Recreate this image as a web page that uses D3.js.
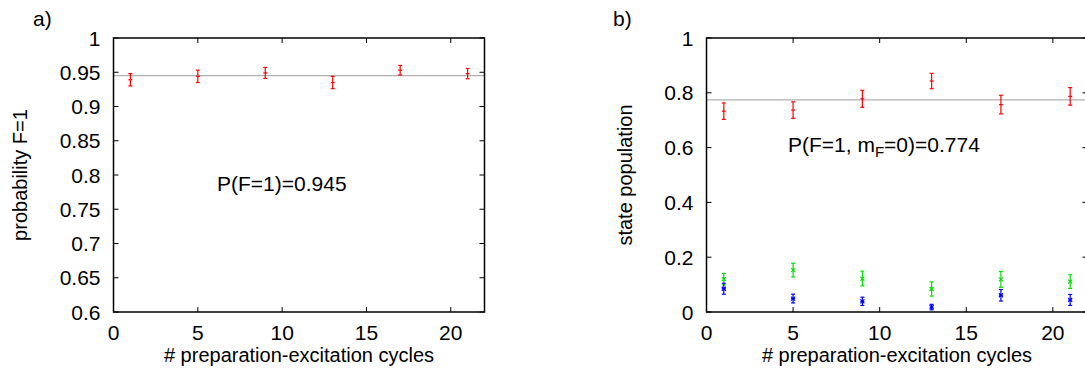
<!DOCTYPE html>
<html>
<head>
<meta charset="utf-8">
<script src="https://cdn.jsdelivr.net/npm/d3@7"></script>
<style>
  body { margin: 0; background: #fff; }
  svg text { font-family: "Liberation Sans", Arial, sans-serif; fill: #000; }
</style>
</head>
<body>
<svg id="svg" width="1085" height="380"></svg>
<script>
// data
var cycles     = [1, 5, 9, 13, 17, 21];
var probF1     = [0.939, 0.944, 0.949, 0.935, 0.953, 0.948];
var probF1Err  = [0.009, 0.009, 0.008, 0.009, 0.007, 0.0075];
var fitF1      = 0.945;

var popM0      = [0.733, 0.737, 0.778, 0.843, 0.757, 0.787];
var popM0Err   = [0.030, 0.030, 0.031, 0.028, 0.034, 0.032];
var popGreen   = [0.120, 0.153, 0.122, 0.084, 0.119, 0.111];
var popGreenErr= [0.021, 0.025, 0.027, 0.026, 0.029, 0.025];
var popBlue    = [0.085, 0.049, 0.039, 0.018, 0.061, 0.044];
var popBlueErr = [0.020, 0.016, 0.015, 0.010, 0.021, 0.020];
var fitM0      = 0.774;

var xTicks  = [0, 5, 10, 15, 20];
var yTicksA = [0.6, 0.65, 0.7, 0.75, 0.8, 0.85, 0.9, 0.95, 1];
var yTicksB = [0, 0.2, 0.4, 0.6, 0.8, 1];

var svg = d3.select("#svg");
var fs  = 21,   // tick labels, annotations
    fsl = 20;   // axis titles

function panel(opt) {
	var x = d3.scaleLinear().domain([0, 22]).range([opt.left, opt.right]);
	var y = d3.scaleLinear().domain(opt.ydom).range([opt.bottom, opt.top]);
	var g = svg.append("g");

	// ticks, mirrored on all four sides
	var tl = 5;
	xTicks.forEach(function(t) {
		g.append("line").attr("x1", x(t)).attr("x2", x(t))
			.attr("y1", opt.bottom).attr("y2", opt.bottom - tl)
			.attr("stroke", "#000").attr("stroke-width", 1);
		g.append("line").attr("x1", x(t)).attr("x2", x(t))
			.attr("y1", opt.top).attr("y2", opt.top + tl)
			.attr("stroke", "#000").attr("stroke-width", 1);
		g.append("text").attr("x", x(t)).attr("y", opt.bottom + 28)
			.attr("text-anchor", "middle").attr("font-size", fs).text(t);
	});
	opt.yticks.forEach(function(t) {
		g.append("line").attr("x1", opt.left).attr("x2", opt.left + tl)
			.attr("y1", y(t)).attr("y2", y(t))
			.attr("stroke", "#000").attr("stroke-width", 1);
		g.append("line").attr("x1", opt.right).attr("x2", opt.right - tl)
			.attr("y1", y(t)).attr("y2", y(t))
			.attr("stroke", "#000").attr("stroke-width", 1);
		g.append("text").attr("x", opt.left - 13).attr("y", y(t) + 7.5)
			.attr("text-anchor", "end").attr("font-size", fs).text(opt.fmt(t));
	});

	// fitted mean
	g.append("line").attr("x1", opt.left).attr("x2", opt.right)
		.attr("y1", y(opt.fit)).attr("y2", y(opt.fit))
		.attr("stroke", "#b0b0b0").attr("stroke-width", 1.2);

	// series with error bars
	opt.series.forEach(function(s) {
		var sg = g.append("g").attr("stroke", s.color).attr("stroke-width", 1.2).attr("fill", "none");
		cycles.forEach(function(c, i) {
			var cx = x(c), lo = y(s.v[i] - s.e[i]), hi = y(s.v[i] + s.e[i]), cy = y(s.v[i]);
			sg.append("line").attr("x1", cx).attr("x2", cx).attr("y1", lo).attr("y2", hi);
			sg.append("line").attr("x1", cx - 2).attr("x2", cx + 2).attr("y1", lo).attr("y2", lo);
			sg.append("line").attr("x1", cx - 2).attr("x2", cx + 2).attr("y1", hi).attr("y2", hi);
			var m = 2;
			if (s.mark == "plus" || s.mark == "star") {
				sg.append("line").attr("x1", cx - m).attr("x2", cx + m).attr("y1", cy).attr("y2", cy);
			}
			if (s.mark == "cross" || s.mark == "star") {
				sg.append("line").attr("x1", cx - m).attr("x2", cx + m).attr("y1", cy - m).attr("y2", cy + m);
				sg.append("line").attr("x1", cx - m).attr("x2", cx + m).attr("y1", cy + m).attr("y2", cy - m);
			}
		});
	});

	// frame
	g.append("rect").attr("x", opt.left).attr("y", opt.top)
		.attr("width", opt.right - opt.left).attr("height", opt.bottom - opt.top)
		.attr("fill", "none").attr("stroke", "#000").attr("stroke-width", 1.5);

	// labels
	g.append("text").attr("x", (opt.left + opt.right) / 2).attr("y", opt.bottom + 50)
		.attr("text-anchor", "middle").attr("font-size", fsl).text("# preparation-excitation cycles");
	g.append("text").attr("transform", "translate(" + opt.ylx + "," + ((opt.top + opt.bottom) / 2) + ") rotate(-90)")
		.attr("text-anchor", "middle").attr("font-size", fsl).text(opt.ylabel);
	g.append("text").attr("x", opt.tagx).attr("y", 26).attr("font-size", fs).text(opt.tag);

	return {g: g, x: x, y: y};
}

var a = panel({
	left: 113.5, right: 484.5, top: 38, bottom: 312,
	ydom: [0.6, 1], yticks: yTicksA, fmt: function(t) { return d3.format("~g")(t); },
	fit: fitF1, ylabel: "probability F=1", ylx: 27, tag: "a)", tagx: 33,
	series: [{v: probF1, e: probF1Err, color: "#ff0000", mark: "plus"}]
});
a.g.append("text").attr("x", 217).attr("y", 191).attr("font-size", fs).text("P(F=1)=0.945");

var b = panel({
	left: 706.5, right: 1087.5, top: 38, bottom: 312,
	ydom: [0, 1], yticks: yTicksB, fmt: function(t) { return d3.format("~g")(t); },
	fit: fitM0, ylabel: "state population", ylx: 632, tag: "b)", tagx: 613,
	series: [
		{v: popM0, e: popM0Err, color: "#ff0000", mark: "plus"},
		{v: popGreen, e: popGreenErr, color: "#00e000", mark: "cross"},
		{v: popBlue, e: popBlueErr, color: "#0000ff", mark: "star"}
	]
});
var ann = b.g.append("text").attr("x", 788).attr("y", 152).attr("font-size", fs);
ann.append("tspan").text("P(F=1, m");
ann.append("tspan").attr("font-size", 15).attr("dy", 5).text("F");
ann.append("tspan").attr("dy", -5).text("=0)=0.774");
</script>
</body>
</html>
